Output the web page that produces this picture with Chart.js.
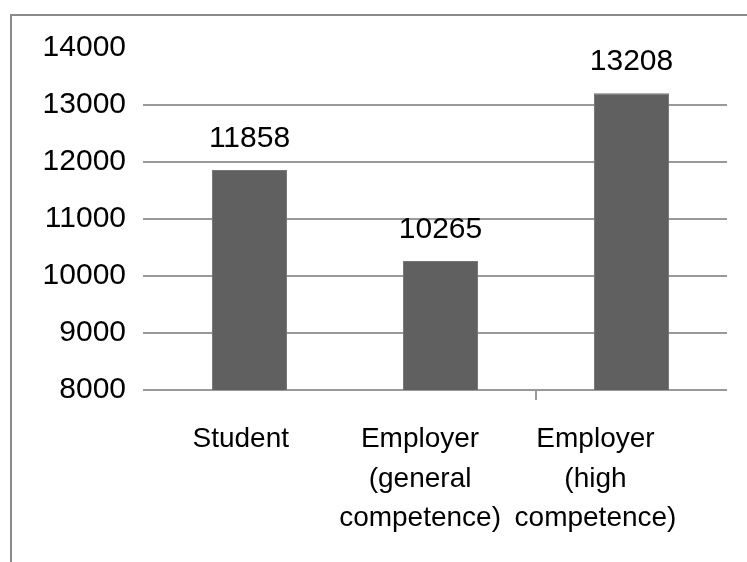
<!DOCTYPE html>
<html><head><meta charset="utf-8">
<script src="https://cdn.jsdelivr.net/npm/chart.js@4"></script>
<style>
html,body{margin:0;padding:0;background:#fff;}
#wrap{position:relative;width:747px;height:562px;overflow:hidden;}
#frame{position:absolute;left:10px;top:14px;width:760px;height:580px;border-top:2px solid #8a8a8a;border-left:2px solid #8a8a8a;}
canvas{position:absolute;left:0;top:0;}
</style></head><body>
<div id="wrap"><div id="frame"></div><canvas id="c" width="747" height="562"></canvas></div>
<script>
const categories = [["Student"], ["Employer", "(general", "competence)"], ["Employer", "(high", "competence)"]];
const values = [11858, 10265, 13208];
const yMin = 8000, yMax = 14000, yStep = 1000;

const FONT = '"Liberation Sans", Arial, sans-serif';
const labelLead = [7, 4, 0];

const valueLabels = {
  id: 'valueLabels',
  afterDatasetsDraw(chart) {
    const ctx = chart.ctx;
    const meta = chart.getDatasetMeta(0);
    ctx.save();
    ctx.font = '30px ' + FONT;
    ctx.fillStyle = '#000';
    ctx.textAlign = 'center';
    ctx.textBaseline = 'middle';
    meta.data.forEach((bar, i) => {
      ctx.fillText(String(values[i]), bar.x, bar.y - 31);
    });
    ctx.restore();
  }
};

new Chart(document.getElementById('c'), {
  type: 'bar',
  data: {
    labels: categories,
    datasets: [{
      data: values,
      backgroundColor: '#606060',
      borderColor: '#767676',
      borderWidth: 1,
      barPercentage: 0.393,
      categoryPercentage: 1
    }]
  },
  options: {
    responsive: false,
    animation: false,
    devicePixelRatio: 1,
    layout: { padding: { top: 48, right: 20, left: 0, bottom: 0 } },
    plugins: { legend: { display: false }, tooltip: { enabled: false } },
    scales: {
      x: {
        border: { display: false },
        grid: {
          drawOnChartArea: false,
          drawTicks: true,
          tickLength: 10,
          lineWidth: 2,
          color: (c) => (c.index >= 2 ? '#999999' : 'rgba(0,0,0,0)')
        },
        ticks: {
          color: '#000',
          font: { family: FONT, size: 28, lineHeight: 1.4 },
          padding: 20,
          labelOffset: -36,
          maxRotation: 0,
          autoSkip: false,
          callback: function (v, i) {
            return categories[i].map(s => ' '.repeat(labelLead[i]) + s);
          }
        },
        afterFit: (s) => { s.height = 172; }
      },
      y: {
        min: yMin,
        max: yMax,
        border: { display: false },
        grid: {
          lineWidth: 2,
          tickLength: 11,
          color: (c) => (c.tick && c.tick.value === yMax ? 'rgba(0,0,0,0)' : '#999999')
        },
        ticks: {
          stepSize: yStep,
          color: '#000',
          padding: 17,
          font: { family: FONT, size: 30 },
          callback: (v) => String(v)
        },
        afterFit: (s) => { s.width = 154; }
      }
    }
  },
  plugins: [valueLabels]
});
</script>
</body></html>
